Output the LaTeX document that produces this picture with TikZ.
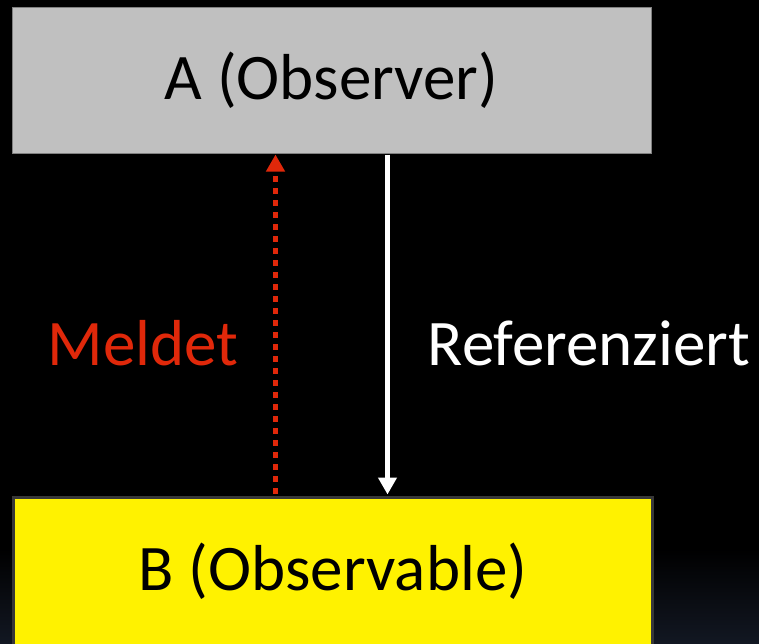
\documentclass[tikz,border=0pt]{standalone}
\usepackage{fontspec}
\setmainfont{Carlito}
\usetikzlibrary{arrows.meta}
\definecolor{boxgray}{HTML}{C0C0C0}
\definecolor{meldred}{HTML}{E0280A}
\definecolor{bottomblue}{HTML}{121722}
\begin{document}
\begin{tikzpicture}[x=1pt,y=-1pt]
		\newcommand*{\labelSize}{\fontsize{65}{72}\selectfont}
		\newcommand*{\arrowShift}{56pt}

		\fill[black] (0,0) rectangle (759,643);
		\shade[top color=black,bottom color=bottomblue] (0,548) rectangle (759,643);
		\useasboundingbox (0,0) rectangle (759,643);

		\node(A) at (331.5,80)[draw=gray,line width=1pt,fill=boxgray,minimum width=639pt,minimum height=146pt,inner sep=0pt]{\labelSize A (Observer)};
		\node(B) at (333,571)[draw=black!78,line width=3pt,fill=yellow,minimum width=639pt,minimum height=148pt,inner sep=0pt]{\labelSize B (Observable)};

		\coordinate(RefTop) at ([xshift=\arrowShift,yshift=-1pt]A.south);
		\coordinate(RefBot) at ([xshift=\arrowShift-1.5pt,yshift=1pt]B.north);
		\coordinate(MelTop) at ([xshift=-\arrowShift,yshift=-1pt]A.south);
		\coordinate(MelBot) at ([xshift=-\arrowShift-1.5pt,yshift=2pt]B.north);

		\draw[-{Triangle[width=18pt,length=17pt]}, white, line width=5pt] (RefTop) -- (RefBot);
		\draw[-{Triangle[width=18pt,length=17pt]}, meldred, line width=5.5pt, dash pattern=on 6pt off 6pt] (MelBot) -- (MelTop);

		\node(Meldet)[meldred] at (143,343) {\labelSize Meldet};
		\node(Ref)[white] at (589,343) {\labelSize Referenziert};
\end{tikzpicture}
\end{document}
